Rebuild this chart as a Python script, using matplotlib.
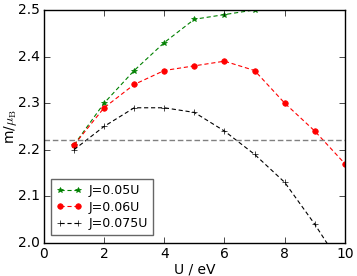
import matplotlib
matplotlib.use("Agg")
import matplotlib.pyplot as plt

U = [1, 2, 3, 4, 5, 6, 7, 8, 9, 10]
m_j050 = [2.21, 2.30, 2.37, 2.43, 2.48, 2.49, 2.50]
m_j060 = [2.21, 2.29, 2.34, 2.37, 2.38, 2.39, 2.37, 2.30, 2.24, 2.17]
m_j075 = [2.20, 2.25, 2.29, 2.29, 2.28, 2.24, 2.19, 2.13, 2.04, 1.94]
m_ref = 2.22

plt.style.use('classic')
plt.rcParams['font.size'] = 10
fig = plt.figure(figsize=(3.57, 2.76), dpi=100)
ax = fig.add_axes([0.123, 0.12, 0.843, 0.844])
dash = (3, 2)
ax.plot(U[:len(m_j050)], m_j050, '--', dashes=dash, color='green', marker='*',
        markersize=4, lw=0.8, markeredgecolor='green', label='J=0.05U')
ax.plot(U, m_j060, '--', dashes=dash, color='red', marker='o', markersize=4,
        lw=0.8, markeredgecolor='red', label='J=0.06U')
ax.plot(U, m_j075, '--', dashes=dash, color='black', marker='+', markersize=4,
        lw=0.8, label='J=0.075U')
ax.axhline(m_ref, color='gray', linestyle='--', dashes=(4, 2), lw=1)
ax.set_xlim(0, 10)
ax.set_ylim(2.0, 2.5)
ax.set_xticks([0, 2, 4, 6, 8, 10])
ax.set_yticks([2.0, 2.1, 2.2, 2.3, 2.4, 2.5])
ax.tick_params(labelsize=10, pad=3)
ax.set_xlabel('U / eV', fontsize=10, labelpad=1)
ax.set_ylabel(r'm/$\mu_\mathrm{B}$', fontsize=10)
ax.yaxis.set_label_coords(-0.084, 0.5)
leg = ax.legend(loc='lower left', fontsize=9, numpoints=2, handlelength=2.0,
                borderaxespad=0.6, labelspacing=0.3, handletextpad=0.6,
                borderpad=0.4)
leg.get_frame().set_edgecolor('0.4')
fig.savefig('out.png', dpi=100)
